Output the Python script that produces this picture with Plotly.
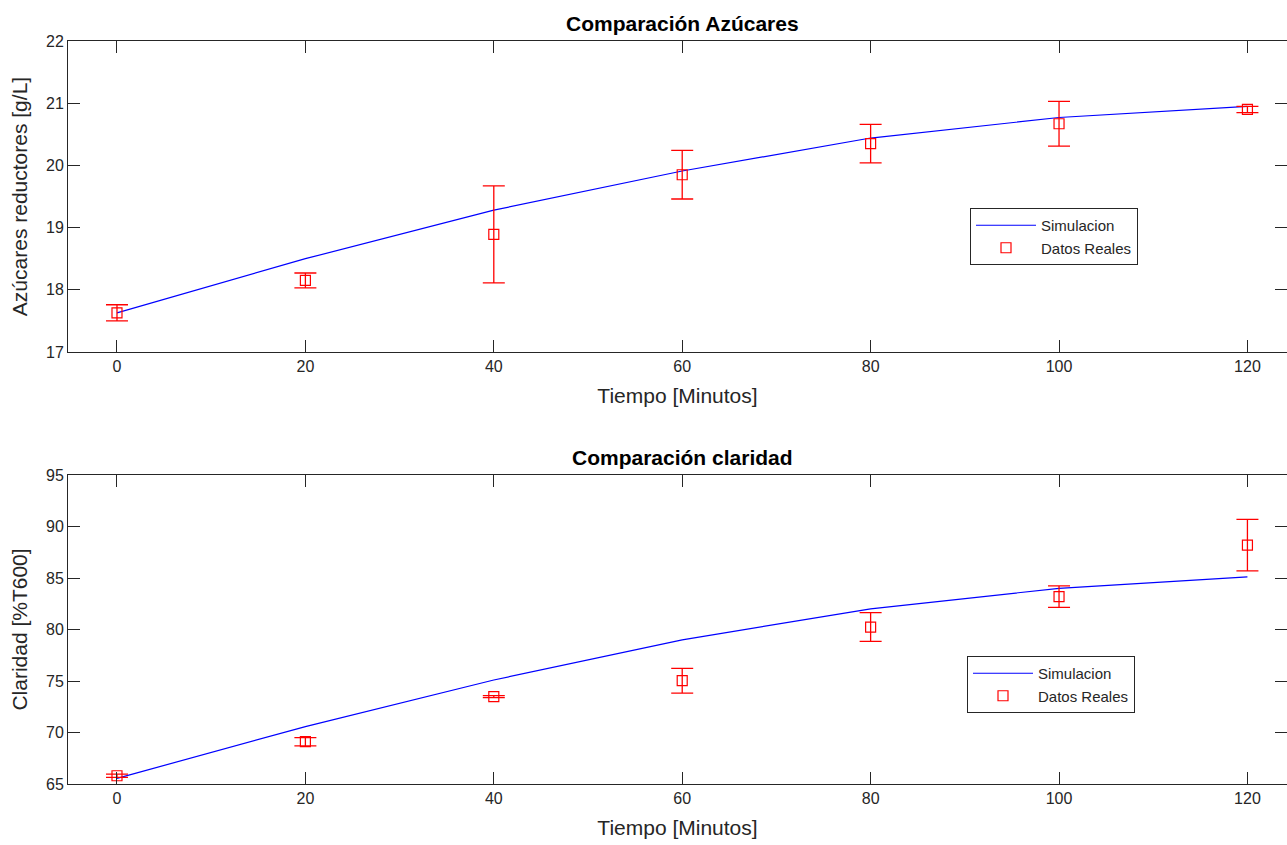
import plotly.graph_objects as go

t = [0, 20, 40, 60, 80, 100, 120]

# Top: reducing sugars
sim_azucar = [17.63, 18.50, 19.28, 19.91, 20.44, 20.77, 20.95]
real_azucar = [17.63, 18.15, 18.89, 19.85, 20.35, 20.67, 20.90]
err_azucar = [0.13, 0.12, 0.78, 0.39, 0.31, 0.36, 0.05]

# Bottom: clarity
sim_claridad = [65.55, 70.57, 75.1, 79.0, 82.0, 84.0, 85.1]
real_claridad = [65.8, 69.11, 73.48, 75.03, 80.24, 83.19, 88.2]
err_claridad = [0.15, 0.4, 0.1, 1.2, 1.4, 1.05, 2.5]

xticks = [0, 20, 40, 60, 80, 100, 120]

W, H = 1287, 845
ml, mr, mt, mb = 68, 0, 41, 61
ph = H - mt - mb

def py(pix):
    return (H - mb - pix) / ph

fig = go.Figure()

RED = "#ff0000"
BLUE = "#0000ff"
TXT = "#262626"
FONT = "Liberation Sans, Arial"

fig.add_trace(go.Scatter(x=t, y=sim_azucar, mode="lines", name="Simulacion",
                         line=dict(color=BLUE, width=1.2), xaxis="x", yaxis="y",
                         legend="legend"))
fig.add_trace(go.Scatter(x=t, y=real_azucar, mode="markers", name="Datos Reales",
                         marker=dict(symbol="square-open", size=10, color=RED, line=dict(width=1.2)),
                         error_y=dict(type="data", array=err_azucar, color=RED, thickness=1.3, width=11),
                         xaxis="x", yaxis="y", legend="legend"))

fig.add_trace(go.Scatter(x=t, y=sim_claridad, mode="lines", name="Simulacion",
                         line=dict(color=BLUE, width=1.2), xaxis="x2", yaxis="y2",
                         legend="legend2"))
fig.add_trace(go.Scatter(x=t, y=real_claridad, mode="markers", name="Datos Reales",
                         marker=dict(symbol="square-open", size=10, color=RED, line=dict(width=1.2)),
                         error_y=dict(type="data", array=err_claridad, color=RED, thickness=1.3, width=11),
                         xaxis="x2", yaxis="y2", legend="legend2"))

axis_common = dict(showline=True, linecolor=TXT, linewidth=1, mirror="allticks",
                   ticks="inside", ticklen=12, tickcolor=TXT, tickwidth=1,
                   showgrid=False, zeroline=False,
                   tickfont=dict(family=FONT, size=16, color=TXT))

xrange = [-5.2, 124.2]
top_dom = [py(352), py(41)]
bot_dom = [py(784), py(475)]

TITLE_SIZE = 21

fig.update_layout(
    width=W, height=H,
    margin=dict(l=ml, r=mr, t=mt, b=mb),
    paper_bgcolor="white", plot_bgcolor="white",
    font=dict(family=FONT, color=TXT),
    xaxis=dict(domain=[0, 1], range=xrange, tickvals=xticks, anchor="y",
               title=dict(text="Tiempo [Minutos]", font=dict(size=TITLE_SIZE, color=TXT), standoff=14),
               **axis_common),
    yaxis=dict(domain=top_dom, range=[17, 22], tickvals=[17, 18, 19, 20, 21, 22], anchor="x",
               title=dict(text="Azúcares reductores [g/L]", font=dict(size=TITLE_SIZE, color=TXT), standoff=12),
               **axis_common),
    xaxis2=dict(domain=[0, 1], range=xrange, tickvals=xticks, anchor="y2",
                title=dict(text="Tiempo [Minutos]", font=dict(size=TITLE_SIZE, color=TXT), standoff=14),
                **axis_common),
    yaxis2=dict(domain=bot_dom, range=[65, 95], tickvals=[65, 70, 75, 80, 85, 90, 95], anchor="x2",
                title=dict(text="Claridad [%T600]", font=dict(size=TITLE_SIZE, color=TXT), standoff=12),
                **axis_common),
    legend=dict(x=(970 - ml) / (W - ml), y=py(208), xanchor="left", yanchor="top",
                bordercolor=TXT, borderwidth=1, bgcolor="white",
                font=dict(size=15, color=TXT), tracegroupgap=0, itemwidth=60),
    legend2=dict(x=(967 - ml) / (W - ml), y=py(656), xanchor="left", yanchor="top",
                 bordercolor=TXT, borderwidth=1, bgcolor="white",
                 font=dict(size=15, color=TXT), tracegroupgap=0, itemwidth=60),
    showlegend=True,
    annotations=[
        dict(text="<b>Comparación Azúcares</b>", x=(682 - ml) / (W - ml), y=py(23),
             xref="paper", yref="paper", showarrow=False, yanchor="middle",
             font=dict(size=TITLE_SIZE, color="#000000")),
        dict(text="<b>Comparación claridad</b>", x=(682 - ml) / (W - ml), y=py(457),
             xref="paper", yref="paper", showarrow=False, yanchor="middle",
             font=dict(size=TITLE_SIZE, color="#000000")),
    ],
)

fig.write_html("out.html")
